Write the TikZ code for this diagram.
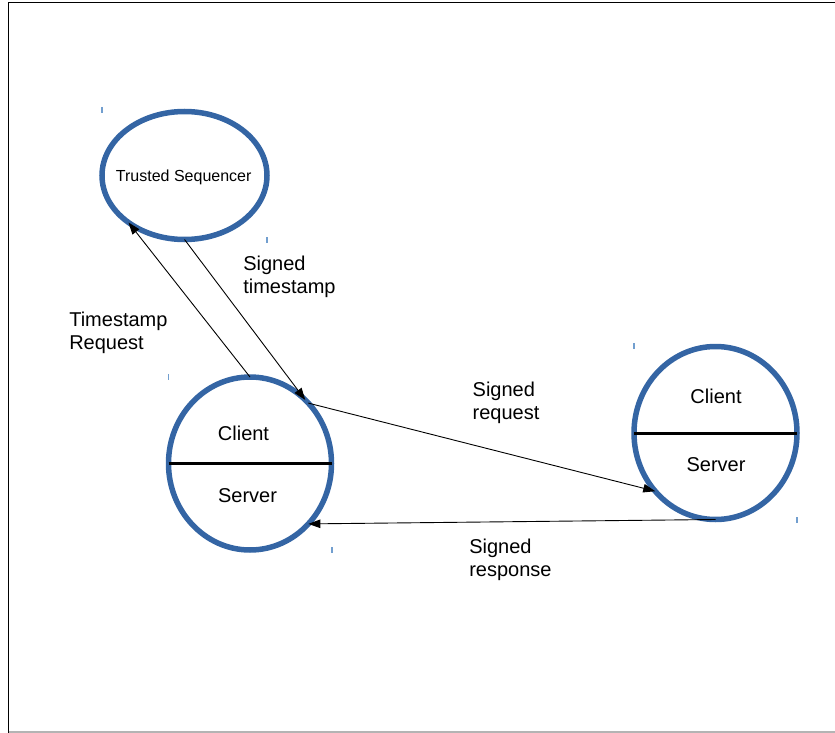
\documentclass[tikz,border=0pt]{standalone}
\usepackage{fontspec}
\setmainfont{Liberation Sans}
\usetikzlibrary{shapes.geometric,arrows.meta}
\definecolor{ringblue}{HTML}{3465A4}
\definecolor{markblue}{HTML}{729FCF}
\definecolor{edgegray}{HTML}{B4B4B4}
\tikzset{
  ring/.style={ellipse, draw=ringblue, line width=5.5pt, inner sep=0pt, outer sep=0pt},
  lbl/.style={font=\fontsize{20}{23}\selectfont, inner sep=0pt, outer sep=0pt},
  note/.style={lbl, align=left, anchor=base west},
  msg/.style={line width=0.9pt, -{Triangle[length=12pt,width=8.5pt]}},
  divider/.style={line width=3pt, black},
  selmark/.style={markblue, line width=1.2pt}
}
\begin{document}
\begin{tikzpicture}[x=1pt,y=-1pt]
\useasboundingbox (0,0) rectangle (835,733);
% page frame
\draw[black, line width=1pt] (8.5,733) -- (8.5,3) -- (835,3);
\draw[edgegray, line width=1.2pt] (8.5,732) -- (835,732);

% the three parties
\node[ring, minimum width=165pt, minimum height=128pt] (ts) at (184.5,175.5) {};
\node[font=\fontsize{16}{19}\selectfont, inner sep=0pt, anchor=base] (tstext) at (183.7,181) {Trusted Sequencer};

\node[ring, minimum width=163pt, minimum height=173pt] (lc) at (250,463.5) {};
\node[ring, minimum width=163pt, minimum height=173pt] (rc) at (715.5,433) {};

% client / server split
\draw[divider] (lc.west) -- (lc.east);
\draw[divider] (rc.west) -- (rc.east);
\node[lbl, anchor=base] (lclient) at (243.5,440) {Client};
\node[lbl, anchor=base] (lserver) at (247.5,502.7) {Server};
\node[lbl, anchor=base] (rclient) at (716,403.3) {Client};
\node[lbl, anchor=base] (rserver) at (716,471.7) {Server};

% selection markers at the shape corners
\draw[selmark] (102,107) -- (102,113);
\draw[selmark] (267,237) -- (267,243);
\draw[selmark] (168.5,374) -- (168.5,380);
\draw[selmark] (332,547) -- (332,553);
\draw[selmark] (634,343) -- (634,349);
\draw[selmark] (797,517) -- (797,523);

% messages
\draw[msg] (lc.north) -- (ts.220.3);
\draw[msg] (ts.south) -- (lc.49);
\draw[msg] (lc.46) -- (rc.224.4);
\draw[msg] (rc.south) -- (lc.314.3);

% message labels (anchored on the baseline of the last line)
\node[note] (treq) at (69.3,349.7) {Timestamp\\Request};
\node[note] (sts) at (243.3,293) {Signed\\timestamp};
\node[note] (sreq) at (472.7,419) {Signed\\request};
\node[note] (sresp) at (469.3,576) {Signed\\response};
\end{tikzpicture}
\end{document}
